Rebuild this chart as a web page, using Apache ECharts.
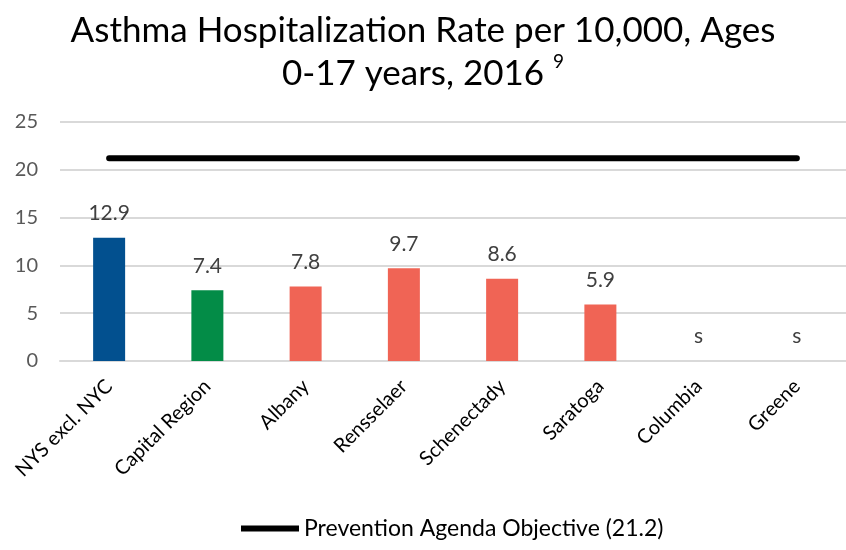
<!DOCTYPE html>
<html>
<head>
<meta charset="utf-8">
<script src="https://cdn.jsdelivr.net/npm/echarts@6/dist/echarts.min.js"></script>
<style>
  html, body { margin: 0; padding: 0; background: #fff; }
  #main { width: 846px; height: 550px; }
</style>
</head>
<body>
<div id="main"></div>
<script>
const categories = ['NYS excl. NYC', 'Capital Region', 'Albany', 'Rensselaer', 'Schenectady', 'Saratoga', 'Columbia', 'Greene'];
const rateValues = [12.9, 7.4, 7.8, 9.7, 8.6, 5.9, 0, 0];
const rateLabels = ['12.9', '7.4', '7.8', '9.7', '8.6', '5.9', 's', 's'];
const barColors = ['#02508f', '#038c47', '#f06455', '#f06455', '#f06455', '#f06455', '#f06455', '#f06455'];
const objectiveValues = [21.2, 21.2, 21.2, 21.2, 21.2, 21.2, 21.2, 21.2];
const yTicks = [0, 5, 10, 15, 20, 25];

const chartDom = document.getElementById('main');
const myChart = echarts.init(chartDom);
const font = 'Lato, "Open Sans", sans-serif';

const option = {
    animation: false,
    title: {
        text: 'Asthma Hospitalization Rate per 10,000, Ages\n0-17 years, 2016 {sup|9}',
        left: 'center',
        top: 4,
        textStyle: {
            fontFamily: font,
            fontSize: 35,
            fontWeight: 'normal',
            color: '#000',
            lineHeight: 43,
            rich: {
                sup: { fontFamily: font, fontSize: 19, color: '#000', verticalAlign: 'top', lineHeight: 43, padding: [0, 0, 14, 0] }
            }
        }
    },
    legend: {
        bottom: 5,
        left: 236,
        data: [{ name: 'Prevention Agenda Objective (21.2)', icon: 'path://M0,0 L60,0 L60,6 L0,6 Z' }],
        itemWidth: 58,
        itemHeight: 6,
        itemGap: 2,
        textStyle: { fontFamily: font, fontSize: 23, color: '#000' }
    },
    grid: { left: 60, top: 122, width: 794, height: 239, containLabel: false },
    xAxis: {
        type: 'category',
        data: categories,
        axisLine: { lineStyle: { color: '#d9d9d9', width: 2 } },
        axisTick: { show: false },
        axisLabel: { rotate: 45, interval: 0, margin: 22, fontFamily: font, fontSize: 20, color: '#000' }
    },
    yAxis: {
        type: 'value',
        min: yTicks[0],
        max: yTicks[yTicks.length - 1],
        interval: 5,
        axisLine: { show: false },
        axisTick: { show: false },
        splitLine: { lineStyle: { color: '#d9d9d9', width: 2 } },
        axisLabel: { margin: 22, fontFamily: font, fontSize: 20, color: '#595959' }
    },
    series: [
        {
            type: 'bar',
            barWidth: 32,
            data: rateValues.map((v, i) => ({ value: v, itemStyle: { color: barColors[i] } })),
            label: {
                show: true,
                position: 'top',
                distance: 14,
                fontFamily: font,
                fontSize: 21,
                color: '#404040',
                formatter: p => rateLabels[p.dataIndex]
            }
        },
        {
            name: 'Prevention Agenda Objective (21.2)',
            type: 'line',
            data: objectiveValues,
            symbol: 'none',
            lineStyle: { color: '#000', width: 6, cap: 'round' },
            itemStyle: { color: '#000' }
        }
    ]
};
option && myChart.setOption(option);
</script>
</body>
</html>
